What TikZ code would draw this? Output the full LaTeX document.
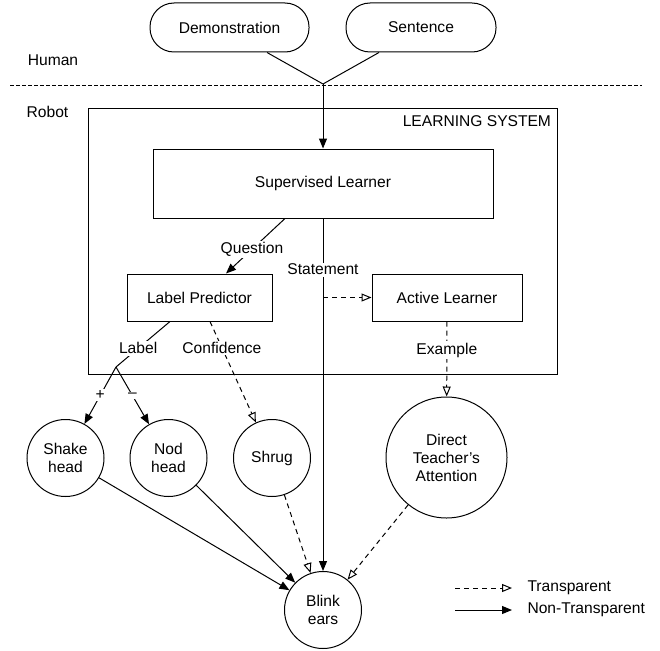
\documentclass[tikz,border=0pt]{standalone}
\usepackage{fontspec}
\setmainfont{Liberation Sans}
\usetikzlibrary{arrows.meta}

\begin{document}
\begin{tikzpicture}[x=1pt, y=-1pt, line width=1pt,
    font=\fontsize{15.6}{18}\selectfont,
    box/.style={draw, rectangle, inner sep=0pt},
    pill/.style={draw, rounded corners=24pt, minimum width=159pt, minimum height=49pt},
    act/.style={draw, circle, align=center, minimum size=77pt, inner sep=0pt},
    lbl/.style={fill=white, inner sep=1.5pt},
    solidarrow/.style={-{Triangle[length=10pt, width=8pt]}},
    openarrow/.style={dash pattern=on 5pt off 4pt, -{Triangle[open, length=10pt, width=8pt]}}]
    \useasboundingbox (0, 0) rectangle (660, 650);

    \node[pill] (demo) at (229.5, 27.5) {Demonstration};
    \node[pill, minimum width=150pt] (sent) at (421, 27.5) {Sentence};

    \node (human) at (53, 60) {Human};
    \node (robot) at (47.5, 112) {Robot};
    \draw[dash pattern=on 4pt off 2pt, line width=0.8pt] (10, 85) -- (642, 85);

    \node[box, minimum width=469pt, minimum height=266pt] (ls) at (322.5, 241) {};
    \node[anchor=east, inner sep=0pt] (lstitle) at ([shift={(-6, 14)}]ls.north east) {LEARNING SYSTEM};

    \node[box, minimum width=340pt, minimum height=69pt] (sl) at (323, 183.5) {Supervised Learner};
    \node[box, minimum width=145pt, minimum height=47pt] (lp) at (199.5, 297.5) {Label Predictor};
    \node[box, minimum width=150pt, minimum height=47pt] (al) at (447, 297.5) {Active Learner};

    \node[act] (shake) at (65.5, 458) {Shake\\head};
    \node[act] (nod) at (168.5, 458) {Nod\\head};
    \node[act] (shrug) at (272, 458) {Shrug};
    \node[act, minimum size=121pt] (dta) at (446.5, 457.5) {Direct\\Teacher's\\Attention};
    \node[act] (blink) at (323, 610) {Blink\\ears};

    \coordinate (join) at (323, 84);
    \draw ([xshift=37.5pt]demo.south) -- (join);
    \draw ([xshift=-42pt]sent.south) -- (join);
    \draw[solidarrow] (join) -- (sl);

    \draw[solidarrow] ([xshift=-38pt]sl.south) -- node[lbl, pos=0.56] {Question} ([xshift=26.5pt]lp.north);
    \draw[solidarrow] (sl.south) -- node[lbl, pos=0.145] {Statement} (blink);
    \draw[openarrow] (sl.south |- al.west) -- (al.west);

    \coordinate (split) at (116, 367);
    \draw ([xshift=-29.5pt]lp.south) -- node[lbl, pos=0.59] {Label} (split);
    \draw[solidarrow] (split) -- node[lbl] {+} (shake);
    \draw[solidarrow] (split) -- node[lbl] {–} (nod);
    \draw[openarrow] ([xshift=10.5pt]lp.south) -- node[lbl, pos=0.26] {Confidence} (shrug);
    \draw[openarrow] (al) -- node[lbl, pos=0.38] {Example} (dta);

    \foreach \n in {shake, nod} {
        \draw[solidarrow] (\n) -- (blink);
    }
    \foreach \n in {shrug, dta} {
        \draw[openarrow] (\n) -- (blink);
    }

    \coordinate (tstart) at (455, 588);
    \coordinate (tend) at (512, 588);
    \coordinate (nstart) at (455, 610);
    \coordinate (nend) at (512, 610);
    \draw[openarrow] (tstart) -- (tend);
    \draw[solidarrow] (nstart) -- (nend);
    \node[anchor=west, inner sep=0pt] (tlabel) at (527, 588) {Transparent};
    \node[anchor=west, inner sep=0pt] (nlabel) at (527, 610) {Non-Transparent};

\end{tikzpicture}
\end{document}
